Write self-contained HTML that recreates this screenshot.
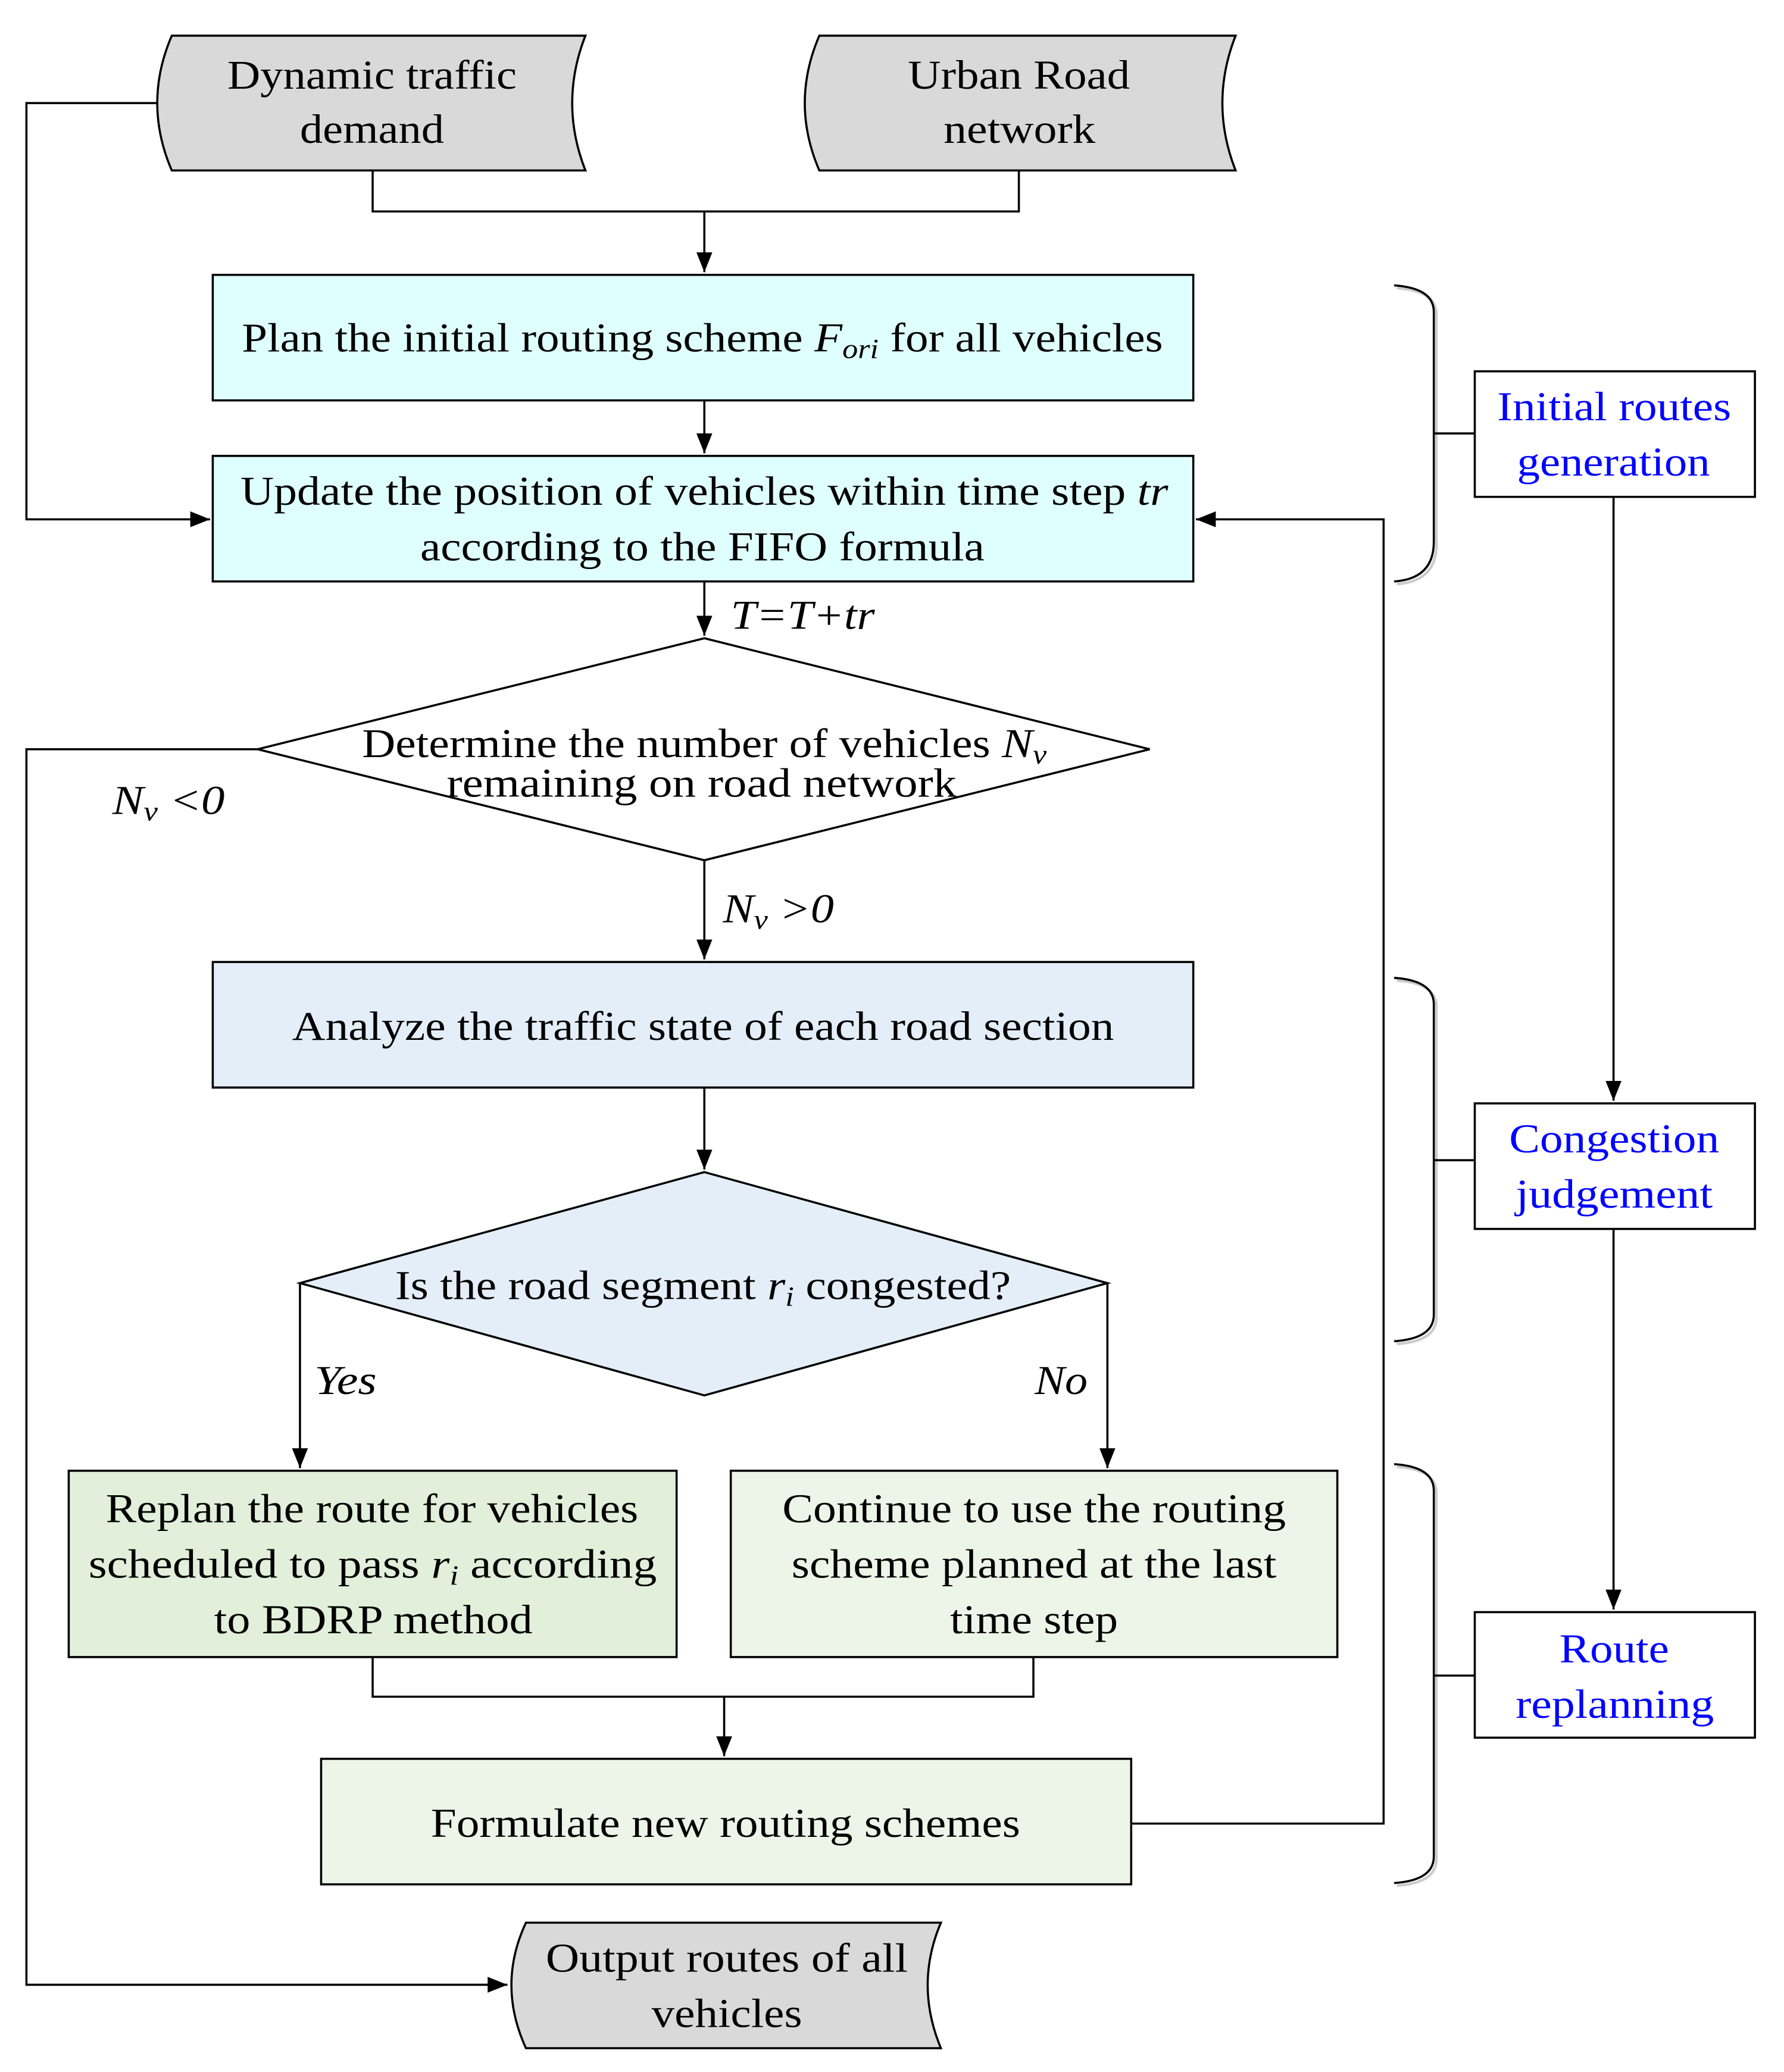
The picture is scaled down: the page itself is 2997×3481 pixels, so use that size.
<!DOCTYPE html>
<html><head><meta charset="utf-8"><style>html,body{margin:0;padding:0;background:#fff}svg{display:block}</style></head>
<body>
<svg width="2997" height="3481" viewBox="0 0 1350 1568" xmlns="http://www.w3.org/2000/svg" font-family="'Liberation Serif', serif" font-size="31">
<defs><marker id="b" markerWidth="16" markerHeight="16" refX="15" refY="6" orient="auto" markerUnits="userSpaceOnUse"><path d="M0,0 L15,6 L0,12 z" fill="#000"/></marker></defs>
<g stroke="#000" stroke-width="1.6" fill="none">
<path d="M130,27 L443,27 Q423,78 443,129 L130,129 Q108,78 130,27z" fill="#d9d9d9"/>
<path d="M620,27 L935,27 Q915,78 935,129 L620,129 Q598,78 620,27z" fill="#d9d9d9"/>
<path d="M398,1455 L712,1455 Q692,1502 712,1550 L398,1550 Q376,1502 398,1455z" fill="#d9d9d9"/>
<rect x="161" y="208" width="742" height="95" fill="#dfffff"/>
<rect x="161" y="345" width="742" height="95" fill="#dfffff"/>
<path d="M533,483 L870,567 L533,651 L195,567z" fill="#fff"/>
<rect x="161" y="728" width="742" height="95" fill="#e4eef8"/>
<path d="M533,887 L838,971 L533,1056 L227,971z" fill="#e4eef8"/>
<rect x="52" y="1113" width="460" height="141" fill="#e2efda"/>
<rect x="553" y="1113" width="459" height="141" fill="#edf5e9"/>
<rect x="243" y="1331" width="613" height="95" fill="#edf5e9"/>
<rect x="1116" y="281" width="212" height="95" fill="#fff"/>
<rect x="1116" y="835" width="212" height="95" fill="#fff"/>
<rect x="1116" y="1220" width="212" height="95" fill="#fff"/>
<path d="M282,129 V160 H771 V129"/>
<path d="M533,160 V206" marker-end="url(#b)"/>
<path d="M533,303 V343" marker-end="url(#b)"/>
<path d="M119,78 H20 V393 H159" marker-end="url(#b)"/>
<path d="M856,1380 H1047 V393 H905" marker-end="url(#b)"/>
<path d="M533,440 V481" marker-end="url(#b)"/>
<path d="M195,567 H20 V1502 H384" marker-end="url(#b)"/>
<path d="M533,651 V726" marker-end="url(#b)"/>
<path d="M533,823 V885" marker-end="url(#b)"/>
<path d="M227,971 V1111" marker-end="url(#b)"/>
<path d="M838,971 V1111" marker-end="url(#b)"/>
<path d="M282,1254 V1284 H782 V1254"/>
<path d="M548,1284 V1329" marker-end="url(#b)"/>
<path d="M1221,376 V833" marker-end="url(#b)"/>
<path d="M1221,930 V1218" marker-end="url(#b)"/>
<g stroke="#999" stroke-width="2" transform="translate(2,2)" opacity="0.5">
<path d="M1055,216 Q1085,218 1085,236 V410 Q1085,438 1055,440"/>
<path d="M1055,740 Q1085,742 1085,760 V995 Q1085,1013 1055,1015"/>
<path d="M1055,1108 Q1085,1110 1085,1128 V1405 Q1085,1423 1055,1425"/>
</g>
<path d="M1055,216 Q1085,218 1085,236 V410 Q1085,438 1055,440 M1085,328 H1116"/>
<path d="M1055,740 Q1085,742 1085,760 V995 Q1085,1013 1055,1015 M1085,878 H1116"/>
<path d="M1055,1108 Q1085,1110 1085,1128 V1405 Q1085,1423 1055,1425 M1085,1268 H1116"/>
</g>
<g fill="#000" lengthAdjust="spacingAndGlyphs">
<text x="172" y="67" textLength="219" lengthAdjust="spacingAndGlyphs">Dynamic traffic</text>
<text x="227" y="108" textLength="109" lengthAdjust="spacingAndGlyphs">demand</text>
<text x="687" y="67" textLength="168" lengthAdjust="spacingAndGlyphs">Urban Road</text>
<text x="714" y="108" textLength="115" lengthAdjust="spacingAndGlyphs">network</text>
<text x="183" y="266" textLength="697" lengthAdjust="spacingAndGlyphs">Plan the initial routing scheme <tspan font-style="italic">F</tspan><tspan font-style="italic" font-size="21" dy="5">ori</tspan><tspan dy="-5"> for all vehicles</tspan></text>
<text x="182" y="382" textLength="702" lengthAdjust="spacingAndGlyphs">Update the position of vehicles within time step <tspan font-style="italic">tr</tspan></text>
<text x="318" y="424" textLength="427" lengthAdjust="spacingAndGlyphs">according to the FIFO formula</text>
<text x="274" y="573" textLength="518" lengthAdjust="spacingAndGlyphs">Determine the number of vehicles <tspan font-style="italic">N</tspan><tspan font-style="italic" font-size="21" dy="5">v</tspan></text>
<text x="338" y="603" textLength="386" lengthAdjust="spacingAndGlyphs">remaining on  road network</text>
<text x="221" y="787" textLength="622" lengthAdjust="spacingAndGlyphs">Analyze the traffic state of each road section</text>
<text x="299" y="983" textLength="466" lengthAdjust="spacingAndGlyphs">Is the road segment <tspan font-style="italic">r</tspan><tspan font-style="italic" font-size="21" dy="5">i</tspan><tspan dy="-5"> congested?</tspan></text>
<text x="80" y="1152" textLength="403" lengthAdjust="spacingAndGlyphs">Replan the route for vehicles</text>
<text x="67" y="1194" textLength="430" lengthAdjust="spacingAndGlyphs">scheduled to pass <tspan font-style="italic">r</tspan><tspan font-style="italic" font-size="21" dy="5">i</tspan><tspan dy="-5">  according</tspan></text>
<text x="162" y="1236" textLength="241" lengthAdjust="spacingAndGlyphs">to BDRP method</text>
<text x="592" y="1152" textLength="381" lengthAdjust="spacingAndGlyphs">Continue to use the routing</text>
<text x="599" y="1194" textLength="367" lengthAdjust="spacingAndGlyphs">scheme planned at the last</text>
<text x="719" y="1236" textLength="127" lengthAdjust="spacingAndGlyphs">time step</text>
<text x="326" y="1390" textLength="446" lengthAdjust="spacingAndGlyphs">Formulate new routing schemes</text>
<text x="413" y="1492" textLength="274" lengthAdjust="spacingAndGlyphs">Output routes of all</text>
<text x="493" y="1534" textLength="114" lengthAdjust="spacingAndGlyphs">vehicles</text>
<g fill="#0000ff">
<text x="1133" y="318" textLength="177" lengthAdjust="spacingAndGlyphs">Initial routes</text>
<text x="1148" y="360" textLength="146" lengthAdjust="spacingAndGlyphs">generation</text>
<text x="1142" y="872" textLength="159" lengthAdjust="spacingAndGlyphs">Congestion</text>
<text x="1147" y="914" textLength="149" lengthAdjust="spacingAndGlyphs">judgement</text>
<text x="1180" y="1258" textLength="83" lengthAdjust="spacingAndGlyphs">Route</text>
<text x="1147" y="1300" textLength="150" lengthAdjust="spacingAndGlyphs">replanning</text>
</g>
<g font-style="italic">
<text x="553" y="476" textLength="109" lengthAdjust="spacingAndGlyphs">T=T+tr</text>
<text x="85" y="616" textLength="85" lengthAdjust="spacingAndGlyphs">N<tspan font-size="21" dy="5">v</tspan><tspan dy="-5"> &lt;0</tspan></text>
<text x="547" y="698" textLength="84" lengthAdjust="spacingAndGlyphs">N<tspan font-size="21" dy="5">v</tspan><tspan dy="-5"> &gt;0</tspan></text>
<text x="238" y="1055" textLength="47" lengthAdjust="spacingAndGlyphs">Yes</text>
<text x="783" y="1055" textLength="40" lengthAdjust="spacingAndGlyphs">No</text>
</g>
</g>
</svg>
</body></html>
